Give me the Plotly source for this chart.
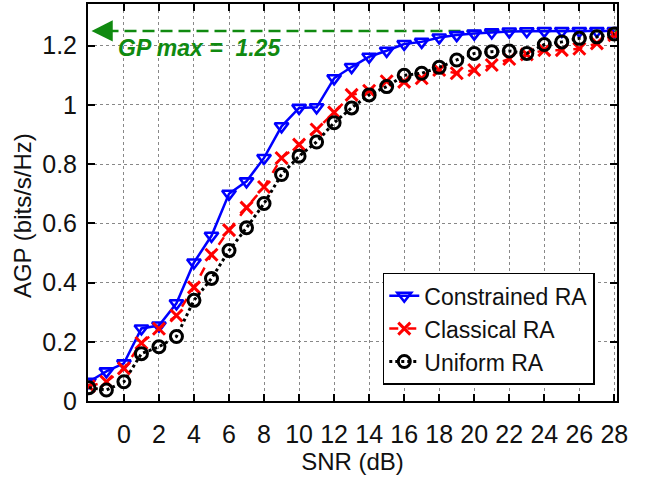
import plotly.graph_objects as go

snr = list(range(-2, 29))
constrained = [0.065, 0.10, 0.127, 0.245, 0.255, 0.33, 0.468, 0.558, 0.70, 0.742,
               0.821, 0.928, 0.99, 0.992, 1.09, 1.128, 1.163, 1.183, 1.206, 1.213,
               1.228, 1.236, 1.241, 1.245, 1.248, 1.249, 1.25, 1.25, 1.25, 1.25, 1.25]
classical = [0.05, 0.065, 0.11, 0.196, 0.244, 0.289, 0.384, 0.494, 0.577, 0.653,
             0.723, 0.821, 0.866, 0.917, 0.975, 1.034, 1.048, 1.08, 1.078, 1.09,
             1.118, 1.107, 1.118, 1.135, 1.155, 1.171, 1.185, 1.185, 1.19, 1.208, 1.236]
uniform = [0.045, 0.037, 0.065, 0.16, 0.183, 0.218, 0.34, 0.414, 0.508, 0.585,
           0.667, 0.765, 0.827, 0.875, 0.94, 0.99, 1.034, 1.062, 1.10, 1.107,
           1.127, 1.152, 1.174, 1.18, 1.182, 1.174, 1.204, 1.213, 1.225, 1.23, 1.24]
gp_max = 1.25
x_ticks = list(range(0, 29, 2))
y_ticks = [0, 0.2, 0.4, 0.6, 0.8, 1, 1.2]
y_tick_text = ["0", "0.2", "0.4", "0.6", "0.8", "1", "1.2"]

FONT = "Liberation Sans, Arial, Helvetica, sans-serif"
GREEN = "#108a10"
TXT = "#111111"

fig = go.Figure()
fig.add_trace(go.Scatter(
    x=snr, y=constrained, name="Constrained RA", mode="lines+markers",
    line=dict(color="#0000ff", width=2.5),
    marker=dict(symbol="triangle-down-open", size=12, color="#0000ff",
                line=dict(width=2.6, color="#0000ff"))))
fig.add_trace(go.Scatter(
    x=snr, y=classical, name="Classical RA", mode="lines+markers",
    line=dict(color="#ff0000", width=2.5, dash="dash"),
    marker=dict(symbol="x-thin", size=12, color="#ff0000",
                line=dict(width=3, color="#ff0000"))))
fig.add_trace(go.Scatter(
    x=snr, y=uniform, name="Uniform RA", mode="lines+markers",
    line=dict(color="#000000", width=3, dash="dot"),
    marker=dict(symbol="circle-open", size=12, color="#000000",
                line=dict(width=3, color="#000000"))))

# GP max dashed line + arrow
fig.add_shape(type="line", xref="paper", yref="y", x0=0.035, x1=1.0,
              y0=gp_max, y1=gp_max, layer="between",
              line=dict(color=GREEN, width=2.6, dash="12px,6px"))
fig.add_annotation(x=-1.85, y=gp_max, ax=-0.9, ay=gp_max, xref="x", yref="y",
                   axref="x", ayref="y", showarrow=True, arrowhead=2,
                   arrowsize=1.7, arrowwidth=2.5, arrowcolor=GREEN, text="")
fig.add_annotation(x=-0.45, y=1.192, xref="x", yref="y", xanchor="left",
                   yanchor="middle", showarrow=False,
                   text="<b><i>GP max =  1.25</i></b>",
                   font=dict(family=FONT, size=23, color=GREEN))

# y-axis title
fig.add_annotation(x=-0.125, y=0.468, xref="paper", yref="paper",
                   xanchor="center", yanchor="middle", showarrow=False,
                   textangle=-90, text="AGP (bits/s/Hz)",
                   font=dict(family=FONT, size=24, color=TXT))

axis_common = dict(
    showline=True, linewidth=2, linecolor="black", mirror="ticks",
    ticks="inside", ticklen=7, tickwidth=1.5, tickcolor="black",
    showgrid=True, gridcolor="#888888", gridwidth=1.3, griddash="dot",
    zeroline=False, tickfont=dict(family=FONT, size=25, color=TXT),
)
fig.update_xaxes(range=[-2.05, 28.15], tickvals=x_ticks, ticklabelstandoff=10,
                 title=dict(text="SNR (dB)", font=dict(family=FONT, size=24, color=TXT),
                            standoff=0),
                 **axis_common)
fig.update_yaxes(range=[0, 1.341], tickvals=y_ticks, ticktext=y_tick_text,
                 ticklabelstandoff=4, **axis_common)

fig.update_layout(
    width=648, height=478,
    margin=dict(l=88, r=31, t=2, b=77),
    plot_bgcolor="white", paper_bgcolor="white",
    font=dict(family=FONT, color=TXT),
    legend=dict(x=0.958, y=0.323, xanchor="right", yanchor="top",
                bgcolor="white", bordercolor="black", borderwidth=1.5,
                font=dict(family=FONT, size=23, color=TXT),
                itemwidth=30, tracegroupgap=0),
    showlegend=True,
)

fig.write_html("out.html")
